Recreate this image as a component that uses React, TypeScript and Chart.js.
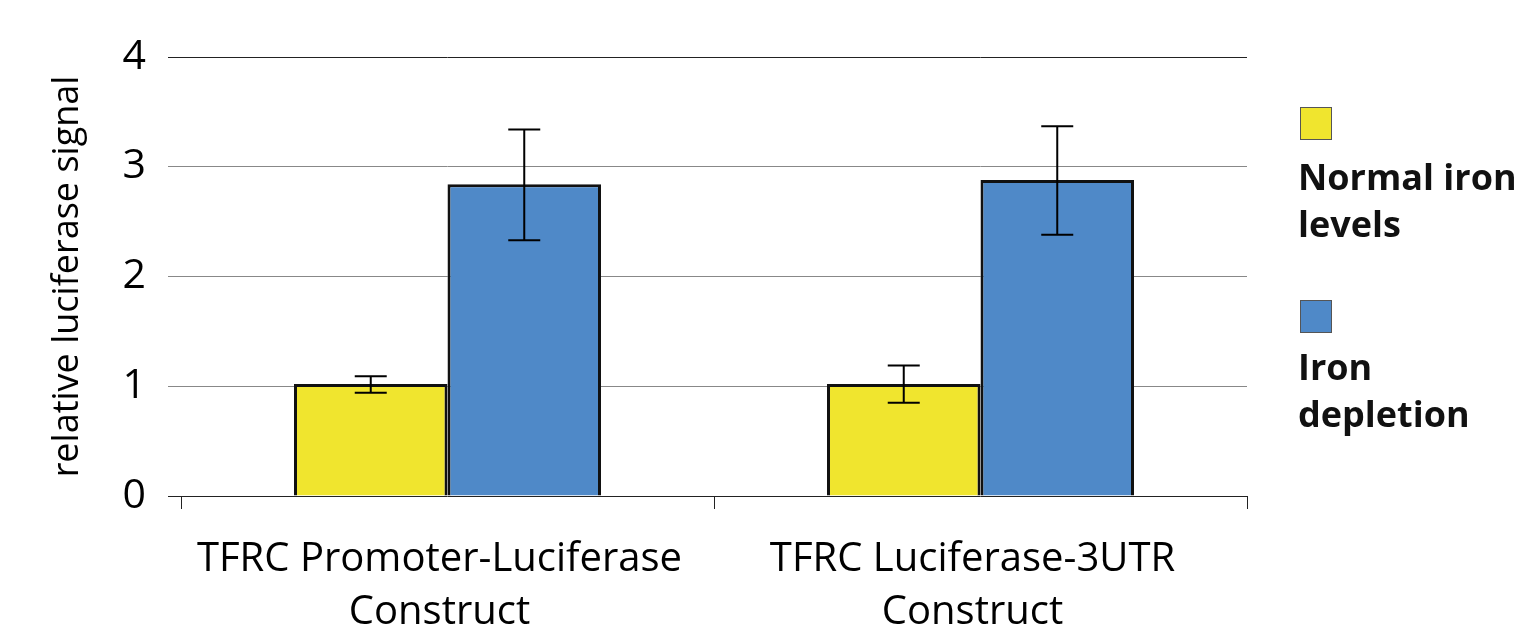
import React, { useEffect, useRef } from "react";
import { Chart, registerables } from "chart.js";

Chart.register(...registerables);

const categories: string[][] = [
  ["TFRC Promoter-Luciferase", "Construct"],
  ["TFRC Luciferase-3UTR", "Construct"],
];
const seriesNames = ["Normal iron levels", "Iron depletion"];
const normalValues = [1.02, 1.02];
const normalErrLow = [0.94, 0.85];
const normalErrHigh = [1.09, 1.19];
const depletionValues = [2.84, 2.88];
const depletionErrLow = [2.33, 2.38];
const depletionErrHigh = [3.34, 3.37];
const yTicks = [0, 1, 2, 3, 4];

const YELLOW = "#F0E52E";
const BLUE = "#4F89C8";
const FONT = "'Open Sans', sans-serif";

const errorBarPlugin = {
  id: "errorBars",
  afterDatasetsDraw(chart: any) {
    const ctx = chart.ctx;
    const yScale = chart.scales.y;
    const lows = [normalErrLow, depletionErrLow];
    const highs = [normalErrHigh, depletionErrHigh];
    ctx.save();
    ctx.strokeStyle = "#000";
    ctx.lineWidth = 2;
    chart.data.datasets.forEach((_: any, di: number) => {
      const meta = chart.getDatasetMeta(di);
      meta.data.forEach((bar: any, i: number) => {
        const x = bar.x;
        const yl = yScale.getPixelForValue(lows[di][i]);
        const yh = yScale.getPixelForValue(highs[di][i]);
        const cap = 16;
        ctx.beginPath();
        ctx.moveTo(x, yl);
        ctx.lineTo(x, yh);
        ctx.moveTo(x - cap, yl);
        ctx.lineTo(x + cap, yl);
        ctx.moveTo(x - cap, yh);
        ctx.lineTo(x + cap, yh);
        ctx.stroke();
      });
    });
    ctx.restore();
  },
};

export default function App() {
  const ref = useRef<HTMLCanvasElement | null>(null);
  useEffect(() => {
    document.body.style.margin = "0";
    const chart = new Chart(ref.current as HTMLCanvasElement, {
      type: "bar",
      data: {
        labels: categories,
        datasets: [
          {
            label: seriesNames[0],
            data: normalValues,
            backgroundColor: YELLOW,
            borderColor: "#111",
            borderWidth: 3,
          },
          {
            label: seriesNames[1],
            data: depletionValues,
            backgroundColor: BLUE,
            borderColor: "#111",
            borderWidth: 3,
          },
        ],
      },
      options: {
        animation: false,
        responsive: false,
        layout: { padding: { top: 57, right: 276, left: 0, bottom: 0 } },
        datasets: { bar: { categoryPercentage: 0.576, barPercentage: 1 } },
        plugins: { legend: { display: false }, tooltip: { enabled: false } },
        scales: {
          x: {
            grid: {
              drawOnChartArea: false,
              drawTicks: true,
              tickLength: 13,
              color: "#222",
              offset: true,
            },
            border: { display: false },
            ticks: {
              color: "#000",
              font: { family: FONT, size: 40, lineHeight: 1.325 },
              padding: 24,
              labelOffset: -8,
              maxRotation: 0,
            },
            afterFit: (s: any) => {
              s.height = 132;
            },
          },
          y: {
            min: 0,
            max: 4,
            afterBuildTicks: (s: any) => {
              s.ticks = yTicks.map((v) => ({ value: v }));
            },
            grid: {
              color: (c: any) =>
                c.tick && (c.tick.value === 4 || c.tick.value === 0) ? "#222" : "#888",
              lineWidth: 1,
              tickLength: 13,
            },
            border: { display: false },
            ticks: {
              color: "#000",
              font: { family: FONT, size: 41 },
              padding: 22,
            },
            title: {
              display: true,
              text: "relative luciferase signal",
              color: "#000",
              font: { family: FONT, size: 36 },
              padding: { top: 46, bottom: 0 },
            },
            afterFit: (s: any) => {
              s.width = 181;
            },
          },
        },
      },
      plugins: [errorBarPlugin],
    });
    return () => chart.destroy();
  }, []);

  const legendText: React.CSSProperties = {
    fontFamily: FONT,
    fontWeight: 700,
    fontSize: 36,
    lineHeight: "47px",
    color: "#111",
    position: "absolute",
    left: 1298,
    whiteSpace: "nowrap",
  };
  const swatch = (color: string, top: number): React.CSSProperties => ({
    position: "absolute",
    left: 1300,
    top,
    width: 32,
    height: 33,
    background: color,
    border: "1px solid #555",
    boxSizing: "border-box",
  });

  return (
    <div style={{ position: "relative", width: 1523, height: 628, background: "#fff" }}>
      <canvas ref={ref} width={1523} height={628} style={{ display: "block" }} />
      <div style={swatch(YELLOW, 107)} />
      <div style={{ ...legendText, top: 153 }}>
        Normal iron
        <br />
        levels
      </div>
      <div style={swatch(BLUE, 300)} />
      <div style={{ ...legendText, top: 343 }}>
        Iron
        <br />
        depletion
      </div>
    </div>
  );
}
